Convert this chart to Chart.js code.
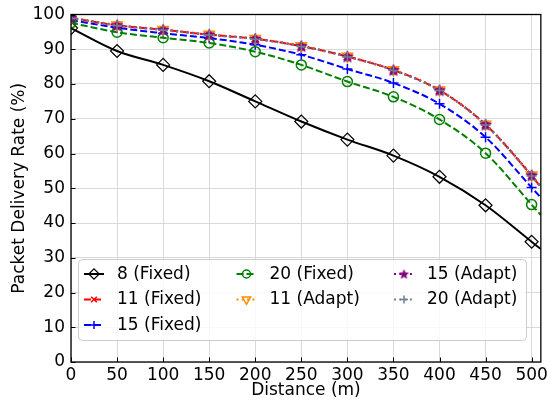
<!DOCTYPE html>
<html><head><meta charset="utf-8">
<script src="https://cdn.jsdelivr.net/npm/chart.js@4/dist/chart.umd.min.js"></script>
<style>html,body{margin:0;padding:0;background:#fff}#wrap{width:551px;height:407px;position:relative}</style>
</head><body><div id="wrap"><canvas id="c" width="551" height="407"></canvas></div>
<script>
// ---- data ----
const distances  = [0, 50, 100, 150, 200, 250, 300, 350, 400, 450, 500, 510];
const pdr8Fixed  = [96.1, 89.5, 85.5, 80.8, 75.0, 69.2, 64.0, 59.4, 53.3, 45.1, 34.6, 32.5];
const pdr11Fixed = [99.0, 96.9, 95.6, 94.2, 93.0, 90.9, 87.9, 84.0, 78.2, 68.3, 53.6, 50.3];
const pdr15Fixed = [98.4, 96.2, 94.6, 93.2, 91.3, 88.4, 84.3, 80.3, 74.3, 64.7, 50.2, 47.3];
const pdr20Fixed = [97.6, 94.9, 93.3, 91.8, 89.3, 85.5, 80.7, 76.3, 69.8, 60.1, 45.3, 42.3];
const pdr11Adapt = [99.1, 97.0, 95.7, 94.3, 93.1, 91.0, 88.0, 84.1, 78.3, 68.4, 53.8, 50.5];
const pdr15Adapt = [99.0, 96.9, 95.6, 94.2, 93.0, 90.9, 87.9, 84.0, 78.2, 68.3, 53.7, 50.4];
const pdr20Adapt = [98.9, 96.8, 95.5, 94.1, 92.9, 90.8, 87.8, 83.9, 78.1, 68.2, 53.5, 50.3];
const seriesLabels = ['8 (Fixed)', '11 (Fixed)', '15 (Fixed)', '20 (Fixed)', '11 (Adapt)', '15 (Adapt)', '20 (Adapt)'];
const xTickStep = 50, yTickStep = 10;

const FONT = "'DejaVu Sans', sans-serif";

// star marker image
function starImage(r, fill, stroke) {
  const c = document.createElement('canvas');
  const s = Math.ceil(2 * r + 4);
  c.width = s; c.height = s;
  const g = c.getContext('2d');
  g.translate(s / 2, s / 2 + 0.5);
  g.beginPath();
  for (let i = 0; i < 10; i++) {
    const rr = i % 2 === 0 ? r : r * 0.42;
    const a = -Math.PI / 2 + i * Math.PI / 5;
    g.lineTo(rr * Math.cos(a), rr * Math.sin(a));
  }
  g.closePath();
  g.fillStyle = fill; g.fill();
  g.lineWidth = 1; g.strokeStyle = stroke; g.stroke();
  return c;
}
const star = starImage(6, '#800080', '#800080');
const starSmall = starImage(4.5, '#800080', '#800080');

const markerR = (r) => (ctx) => (distances[ctx.dataIndex] % 50 === 0 ? r : 0);

function mk(values) { return distances.map((d, i) => ({ x: d, y: values[i] })); }

const styles = [
  { data: pdr8Fixed,  color: '#000000', dash: [],      style: 'rectRot',  r: 6.5, fill: 'rgba(0,0,0,0)', bw: 1.2, lw: 2 },
  { data: pdr11Fixed, color: '#ff0000', dash: [7, 3],  style: 'crossRot', r: 5,   fill: 'rgba(0,0,0,0)', bw: 1.5, lw: 2 },
  { data: pdr15Fixed, color: '#0000ff', dash: [7, 3],  style: 'cross',    r: 5,   fill: 'rgba(0,0,0,0)', bw: 1.5, lw: 2 },
  { data: pdr20Fixed, color: '#008000', dash: [7, 3],  style: 'circle',   r: 5,   fill: 'rgba(0,0,0,0)', bw: 1.5, lw: 2 },
  { data: pdr11Adapt, color: '#ff8c00', dash: [2, 3.3],style: 'triangle', r: 6,   fill: 'rgba(0,0,0,0)', bw: 1.5, lw: 2, rot: 180 },
  { data: pdr15Adapt, color: '#800080', dash: [2, 3.3],style: star,       r: 6,   fill: '#800080',       bw: 1,   lw: 2, legendStyle: starSmall },
  { data: pdr20Adapt, color: '#708090', dash: [2, 3.3],style: 'cross',    r: 5,   fill: 'rgba(0,0,0,0)', bw: 1.5, lw: 2 },
];

const datasets = styles.map((s, i) => ({
  label: seriesLabels[i],
  data: mk(s.data),
  borderColor: s.color,
  backgroundColor: s.fill,
  borderWidth: s.lw,
  borderDash: s.dash,
  pointStyle: s.style,
  pointRotation: s.rot || 0,
  pointRadius: markerR(s.r),
  pointHoverRadius: markerR(s.r),
  pointBorderColor: s.color,
  pointBackgroundColor: s.fill,
  pointBorderWidth: s.bw,
  cubicInterpolationMode: 'monotone',
  fill: false,
  clip: 0,
  order: styles.length - i,
}));

const frameAndTicks = {
  id: 'frameAndTicks',
  afterDatasetsDraw(chart) {
    const { ctx, chartArea: a, scales } = chart;
    ctx.save();
    ctx.strokeStyle = '#000';
    ctx.lineWidth = 1;
    scales.y.ticks.forEach(t => {
      const y = Math.round(scales.y.getPixelForValue(t.value)) + 0.5;
      ctx.beginPath(); ctx.moveTo(a.left, y); ctx.lineTo(a.left + 4.5, y); ctx.stroke();
    });
    scales.x.ticks.forEach(t => {
      const x = Math.round(scales.x.getPixelForValue(t.value)) + 0.5;
      ctx.beginPath(); ctx.moveTo(x, a.bottom); ctx.lineTo(x, a.bottom - 4.5); ctx.stroke();
    });
    ctx.lineWidth = 1.3;
    ctx.strokeRect(a.left, a.top, a.right - a.left, a.bottom - a.top);
    ctx.restore();
  },
  afterDraw(chart) {
    const { ctx } = chart;
    const box = { x: 78.5, y: 259.5, w: 448, h: 81, r: 4 };
    ctx.save();
    ctx.beginPath();
    ctx.roundRect(box.x, box.y, box.w, box.h, box.r);
    ctx.fillStyle = 'rgba(255,255,255,0.8)';
    ctx.fill();
    ctx.strokeStyle = '#cccccc';
    ctx.lineWidth = 1;
    ctx.stroke();
    const cols = [84, 236.5, 394];
    const rows = [274, 299.5, 325];
    const layout = [[0, 0], [0, 1], [0, 2], [1, 0], [1, 1], [2, 0], [2, 1]];
    ctx.font = '17px ' + FONT;
    ctx.textBaseline = 'middle';
    layout.forEach(([c, r], i) => {
      const ds = chart.data.datasets[i];
      const s = styles[i];
      const x0 = cols[c], y = rows[r];
      ctx.save();
      ctx.strokeStyle = s.color;
      ctx.lineWidth = s.lw;
      ctx.setLineDash(s.dash);
      ctx.beginPath(); ctx.moveTo(x0, y); ctx.lineTo(x0 + 20, y); ctx.stroke();
      ctx.setLineDash([]);
      ctx.lineWidth = s.bw;
      ctx.fillStyle = s.fill;
      Chart.helpers.drawPoint(ctx, { pointStyle: s.legendStyle || s.style, rotation: s.rot || 0, radius: s.r * 0.8, borderWidth: s.bw }, x0 + 10, y);
      ctx.restore();
      ctx.fillStyle = '#000';
      ctx.fillText(ds.label, x0 + 33, y + 0.5);
    });
    ctx.restore();
  }
};

new Chart(document.getElementById('c'), {
  type: 'line',
  data: { datasets },
  plugins: [frameAndTicks],
  options: {
    responsive: false,
    animation: false,
    devicePixelRatio: 1,
    layout: { padding: { top: 13, right: 7, left: 0, bottom: 0 } },
    plugins: { legend: { display: false }, tooltip: { enabled: false } },
    scales: {
      x: {
        type: 'linear', min: 0, max: 510,
        ticks: { stepSize: xTickStep, includeBounds: false, padding: 3, color: '#000', font: { family: FONT, size: 17 }, maxRotation: 0, autoSkip: false },
        grid: { color: '#d9d9d9', drawTicks: false, lineWidth: 1 },
        border: { display: false },
        title: { display: true, text: 'Distance (m)', color: '#000', font: { family: FONT, size: 17 }, padding: { top: 0, bottom: 6 } },
        afterFit: s => { s.height = 45; }
      },
      y: {
        min: 0, max: 100,
        ticks: { stepSize: yTickStep, padding: 6, color: '#000', font: { family: FONT, size: 17, lineHeight: 1 } },
        grid: { color: '#d9d9d9', drawTicks: false, lineWidth: 1 },
        border: { display: false },
        title: { display: true, text: 'Packet Delivery Rate (%)', color: '#000', font: { family: FONT, size: 17 }, padding: { top: 9, bottom: 0 } },
        afterFit: s => { s.width = 71; }
      }
    }
  }
});
</script></body></html>
